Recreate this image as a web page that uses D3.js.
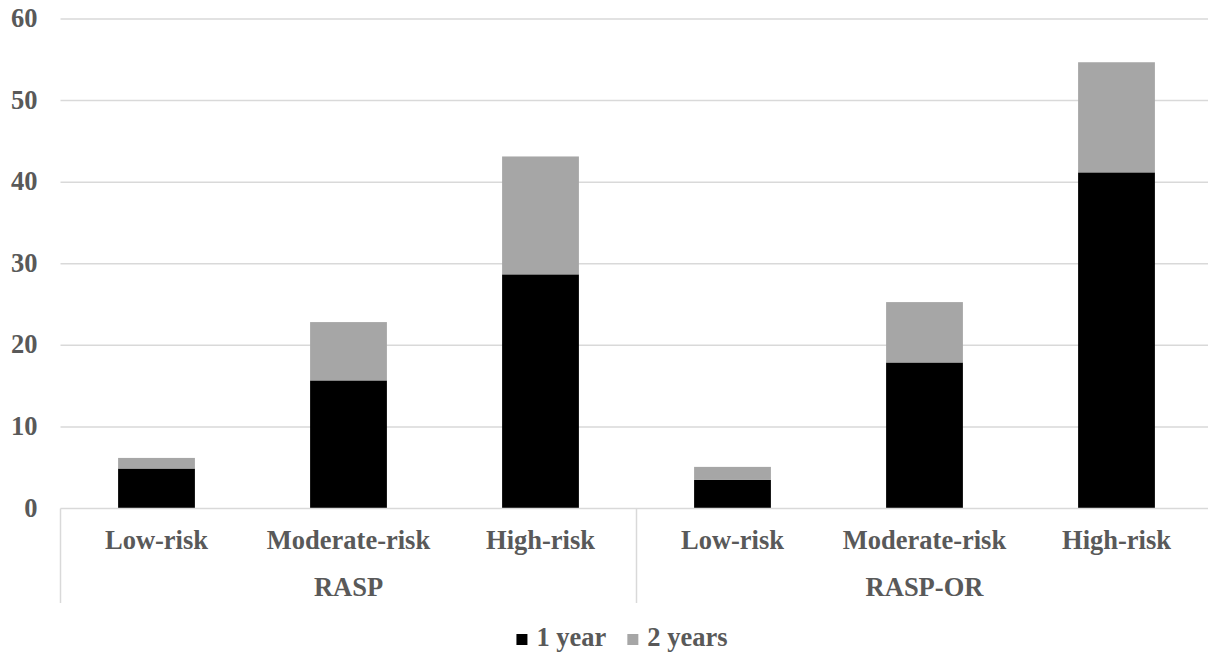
<!DOCTYPE html>
<html><head><meta charset="utf-8">
<script src="https://cdn.jsdelivr.net/npm/d3@7"></script>
<style>body{margin:0;background:#fff}svg{display:block}
svg text{font-family:"Liberation Serif","Times New Roman","DejaVu Serif",serif;font-weight:bold;fill:#595959}</style>
</head><body>
<svg id="c" width="1208" height="657"></svg>
<script>
const categories = ["Low-risk","Moderate-risk","High-risk","Low-risk","Moderate-risk","High-risk"];
const groups = ["RASP","RASP-OR"];
const seriesNames = ["1 year","2 years"];
const oneYear = [4.9, 15.7, 28.7, 3.5, 17.9, 41.2];
const twoYears = [1.3, 7.15, 14.45, 1.6, 7.4, 13.5];
const yTicks = [0,10,20,30,40,50,60];
const colors = ["#000000","#a6a6a6"];

const svg = d3.select("#c");
const grid = "#d9d9d9";
const fs = 26.5;

const x = d3.scaleBand().domain(d3.range(categories.length)).range([60.5,1212.5]);
const y = d3.scaleLinear().domain([0,60]).range([508.5,19]);
const barW = x.bandwidth()*0.4;

// gridlines
svg.append("g").selectAll("line").data(yTicks.filter(d=>d>0)).join("line")
  .attr("x1",60.5).attr("x2",1208).attr("y1",d=>y(d)).attr("y2",d=>y(d))
  .attr("stroke",grid).attr("stroke-width",1.5);

// y labels
svg.append("g").selectAll("text").data(yTicks).join("text")
  .attr("x",37.5).attr("y",d=>y(d)+8).attr("text-anchor","end")
  .attr("font-size",fs).text(d=>d);

// stacked bars
const stackData = categories.map((c,i)=>({i, a:oneYear[i], b:twoYears[i]}));
const stack = d3.stack().keys(["a","b"])(stackData);
svg.append("g").selectAll("g").data(stack).join("g").attr("fill",(d,k)=>colors[k])
  .selectAll("rect").data(d=>d).join("rect")
  .attr("x",d=>x(d.data.i)+(x.bandwidth()-barW)/2).attr("width",barW)
  .attr("y",d=>y(d[1])).attr("height",d=>y(d[0])-y(d[1]));

// axis line and separators
svg.append("line").attr("x1",60.5).attr("x2",1208).attr("y1",y(0)).attr("y2",y(0))
  .attr("stroke",grid).attr("stroke-width",1.5);
[0,3].forEach(k=>{
  svg.append("line").attr("x1",x(k)).attr("x2",x(k)).attr("y1",y(0)).attr("y2",603)
    .attr("stroke",grid).attr("stroke-width",1.5);
});

// category labels
svg.append("g").selectAll("text").data(categories).join("text")
  .attr("x",(d,i)=>x(i)+x.bandwidth()/2).attr("y",548.5)
  .attr("text-anchor","middle").attr("font-size",fs).text(d=>d);
// group labels
svg.append("g").selectAll("text").data(groups).join("text")
  .attr("x",(d,g)=>(x(g*3)+x(g*3+2)+x.bandwidth())/2).attr("y",596)
  .attr("text-anchor","middle").attr("font-size",fs).text(d=>d);

// legend
const lg = svg.append("g");
const sq = 11, gap = 9, itemGap = 21;
let items = seriesNames.map((n,k)=>{
  const t = lg.append("text").attr("font-size",fs).attr("y",646).text(n);
  return {t, w:t.node().getComputedTextLength(), k};
});
const total = d3.sum(items,d=>sq+gap+d.w) + itemGap*(items.length-1);
let cx = 621 - total/2 + 1;
items.forEach(it=>{
  lg.append("rect").attr("x",cx).attr("y",634).attr("width",sq).attr("height",sq).attr("fill",colors[it.k]);
  it.t.attr("x",cx+sq+gap);
  cx += sq+gap+it.w+itemGap;
});
</script>
</body></html>
